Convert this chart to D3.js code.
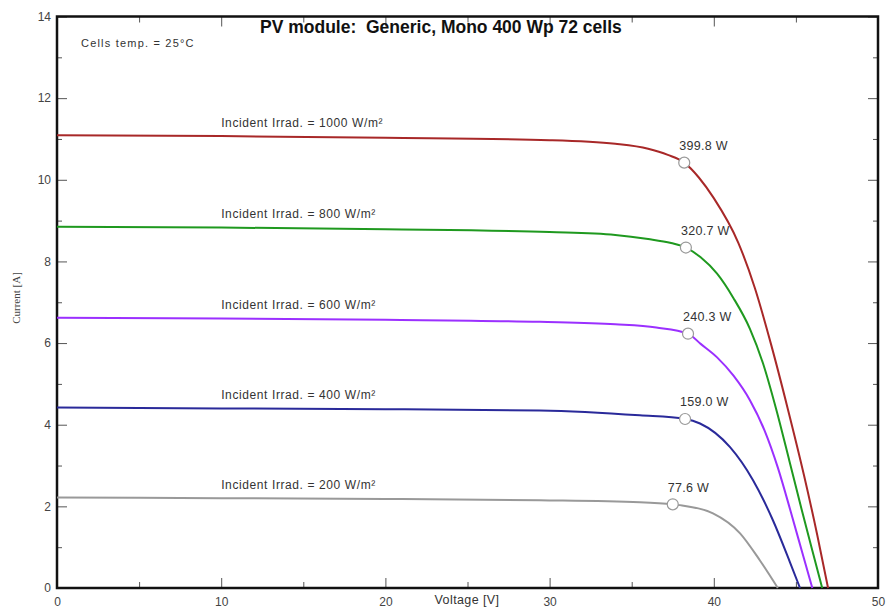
<!DOCTYPE html>
<html><head><meta charset="utf-8">
<script src="https://cdn.jsdelivr.net/npm/d3@7"></script>
<style>
html,body{margin:0;padding:0;background:#fff;}
svg{display:block;font-family:"Liberation Sans",Arial,sans-serif;}
</style></head>
<body><svg id="chart" width="886" height="608"></svg>
<script>
// ---- data ----
const irradiances = [1000, 800, 600, 400, 200];
const seriesColors = ["#a82828", "#1f991f", "#9b30ff", "#2a2a9a", "#999999"];
const curve1000 = [[0,11.09],[10,11.07],[20,11.03],[30,10.97],[34,10.88],[36,10.76],[37.2,10.61],[38.2,10.42],[39.1,10.05],[40,9.55],[41.5,8.45],[42.5,7.35],[43.5,5.95],[44.5,4.40],[45.5,2.75],[46.3,1.30],[46.96,0]];
const curve800  = [[0,8.85],[10,8.83],[20,8.79],[30,8.72],[34,8.65],[36,8.55],[37.4,8.45],[38.3,8.34],[39.2,8.10],[40.2,7.70],[41.2,7.10],[42.2,6.35],[43.0,5.50],[43.8,4.38],[44.6,3.12],[45.3,2.00],[46.0,0.92],[46.6,0]];
const curve600  = [[0,6.62],[10,6.60],[20,6.57],[29.4,6.52],[34,6.46],[36.5,6.38],[38.43,6.23],[39.2,5.98],[40.2,5.65],[41.2,5.20],[42.2,4.60],[43.1,3.85],[43.9,2.95],[44.7,1.85],[45.4,0.85],[46.0,0]];
const curve400  = [[0,4.42],[10,4.40],[20,4.38],[29.4,4.35],[35.5,4.23],[38.25,4.14],[39.16,4.03],[40.99,3.45],[42.39,2.64],[43.6,1.66],[44.64,0.63],[45.25,0]];
const curve200  = [[0,2.22],[10,2.20],[20,2.18],[29.4,2.15],[35.5,2.10],[37.5,2.05],[37.94,2.03],[39.95,1.83],[41.6,1.34],[42.8,0.68],[43.9,0]];
const mppVoltage = [38.2, 38.3, 38.43, 38.25, 37.5];
const mppCurrent = [10.42, 8.34, 6.23, 4.14, 2.05];
const mppLabels = ["399.8 W", "320.7 W", "240.3 W", "159.0 W", "77.6 W"];
const xMajorTicks = [0, 10, 20, 30, 40, 50];
const xMinorTicks = [5, 15, 25, 35, 45];
const yMajorTicks = [0, 2, 4, 6, 8, 10, 12, 14];
const yMinorTicks = [1, 3, 5, 7, 9, 11, 13];
const titleText = "PV module:  Generic, Mono 400 Wp 72 cells";
const tempText = "Cells temp. = 25°C";
const xTitle = "Voltage [V]";
const yTitle = "Current [A]";

const curves = [curve1000, curve800, curve600, curve400, curve200];

// ---- layout ----
const svg = d3.select("#chart");
const L = 57, R = 878, T = 16.5, B = 588;
const x = d3.scaleLinear().domain([0, 50]).range([L, R]);
const y = d3.scaleLinear().domain([0, 14]).range([B, T]);

const tickFont = "12px";
const tickColor = "#444";

function styleAxis(g){
  g.select(".domain").remove();
  g.selectAll(".tick line").attr("stroke", "#555").attr("stroke-width", 1);
  g.selectAll(".tick text").attr("fill", tickColor).style("font-size", tickFont).style("font-family", "'Liberation Sans',Arial,sans-serif");
}
svg.append("g").attr("transform", `translate(0,${B})`)
  .call(d3.axisBottom(x).tickValues(xMajorTicks).tickSize(-10).tickPadding(9).tickFormat(d3.format("d"))).call(styleAxis);
svg.append("g").attr("transform", `translate(0,${B})`)
  .call(d3.axisBottom(x).tickValues(xMinorTicks).tickSize(-6).tickFormat("")).call(styleAxis);
svg.append("g").attr("transform", `translate(0,${T})`)
  .call(d3.axisTop(x).tickValues(xMajorTicks).tickSize(-10).tickFormat("")).call(styleAxis);
svg.append("g").attr("transform", `translate(0,${T})`)
  .call(d3.axisTop(x).tickValues(xMinorTicks).tickSize(-6).tickFormat("")).call(styleAxis);
svg.append("g").attr("transform", `translate(${L},0)`)
  .call(d3.axisLeft(y).tickValues(yMajorTicks).tickSize(-10).tickPadding(6).tickFormat(d3.format("d"))).call(styleAxis);
svg.append("g").attr("transform", `translate(${L},0)`)
  .call(d3.axisLeft(y).tickValues(yMinorTicks).tickSize(-5).tickFormat("")).call(styleAxis);
svg.append("g").attr("transform", `translate(${R},0)`)
  .call(d3.axisRight(y).tickValues(yMajorTicks).tickSize(-10).tickFormat("")).call(styleAxis);
svg.append("g").attr("transform", `translate(${R},0)`)
  .call(d3.axisRight(y).tickValues(yMinorTicks).tickSize(-5).tickFormat("")).call(styleAxis);

// frame
svg.append("rect").attr("x", L).attr("y", T).attr("width", R - L).attr("height", B - T)
  .attr("fill", "none").attr("stroke", "#111").attr("stroke-width", 2.5);

// curves
const line = d3.line().x(d => x(d[0])).y(d => y(d[1])).curve(d3.curveMonotoneX);
curves.forEach((c, i) => {
  svg.append("path").datum(c).attr("d", line).attr("fill", "none")
    .attr("stroke", seriesColors[i]).attr("stroke-width", 2);
  svg.append("text").attr("x", x(10)).attr("y", y(c[0][1]) - 8.5)
    .attr("fill", "#333").style("font-size", "12px").style("letter-spacing", "0.6px")
    .text(`Incident Irrad. = ${irradiances[i]} W/m²`);
});

// MPP markers
mppVoltage.forEach((v, i) => {
  svg.append("circle").attr("cx", x(v)).attr("cy", y(mppCurrent[i])).attr("r", 5.5)
    .attr("fill", "#fff").attr("stroke", "#999").attr("stroke-width", 1.2);
  svg.append("text").attr("x", x(v) - 5).attr("y", y(mppCurrent[i]) - 12.5)
    .attr("fill", "#333").style("font-size", "12.5px").style("letter-spacing", "0.3px").text(mppLabels[i]);
});

// texts
svg.append("text").attr("x", 260).attr("y", 33).attr("fill", "#111")
  .style("font-size", "17.5px").style("font-weight", "bold").style("white-space", "pre")
  .text(titleText);
svg.append("text").attr("x", 81).attr("y", 47).attr("fill", "#333")
  .style("font-size", "11px").style("letter-spacing", "1.2px").text(tempText);
svg.append("text").attr("x", 467).attr("y", 604).attr("text-anchor", "middle").attr("fill", "#333")
  .style("font-size", "12.5px").style("letter-spacing", "0.4px").text(xTitle);
svg.append("text").attr("transform", "translate(20,298) rotate(-90)").attr("text-anchor", "middle")
  .attr("fill", "#444").style("font-size", "11px").style("font-family", "'Liberation Serif','Times New Roman',serif")
  .text(yTitle);
</script></body></html>
